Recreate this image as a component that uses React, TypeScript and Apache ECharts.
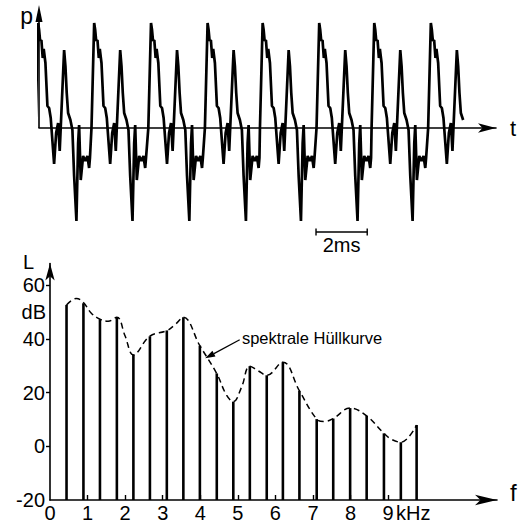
import React, { useEffect, useRef } from 'react';
import * as echarts from 'echarts';

// ---------- top: pressure waveform p(t) ----------
// start time (ms) of each period, read at the steep rise of each main peak
const periodStartMs = [-0.14, 2.05, 4.27, 6.48, 8.63, 10.84, 12.99, 15.2];
// one period of the trace: time after period start (ms) and relative pressure
const shapeT = [0, 0.105, 0.145, 0.184, 0.234, 0.285, 0.324, 0.391, 0.469, 0.535, 0.598, 0.73, 0.809, 0.887, 0.949, 1.121, 1.172, 1.223, 1.277, 1.367, 1.445, 1.512, 1.602, 1.668, 1.707, 1.77, 1.863, 1.953, 2.031, 2.098, 2.13];
const shapeP = [0, 105, 98, 87, 88, 70, 79, 65, 22, 20, 10, -36, -5, 5, -23, 78, 62, 35, 15, 8, -2, -48, -93, -15, 3, -52, -28, -33, -28, -40, -30];
const lastPeriodEndMs = 1.4;
const scaleBarMs = [10.82, 12.82];

// ---------- bottom: line spectrum L(f) ----------
const harmonicKHz = [0.44, 0.89, 1.33, 1.78, 2.22, 2.66, 3.11, 3.55, 3.99, 4.44, 4.88, 5.32, 5.77, 6.2, 6.64, 7.1, 7.54, 7.99, 8.43, 8.89, 9.34, 9.76];
const levelDb = [52.6, 53.2, 47.3, 48, 34.1, 40.9, 43.1, 48, 37.4, 27.1, 16.6, 29.8, 26.4, 31.3, 20.6, 10.1, 10.3, 14.2, 11.3, 4.8, 1.5, 7.9];
const envelopeKHz = [0.44, 0.7, 0.89, 1.1, 1.33, 1.55, 1.78, 2.0, 2.22, 2.66, 3.11, 3.35, 3.55, 3.99, 4.44, 4.7, 4.88, 5.1, 5.32, 5.55, 5.77, 6.2, 6.64, 7.1, 7.3, 7.54, 7.99, 8.43, 8.89, 9.1, 9.34, 9.76];
const envelopeDb = [52.6, 55, 53.5, 49.5, 47.3, 46.5, 48, 41, 34, 41, 43, 45.5, 48, 37.4, 27, 19, 16.6, 22, 29.8, 28, 26.4, 31.3, 20.6, 10.1, 9.2, 10.3, 14.2, 11.3, 4.8, 2.5, 1.5, 7.9];
const freqLabels = [0, 1, 2, 3, 4, 5, 6, 7, 8, 9];
const freqTicks = [1, 2, 3, 4, 5, 6, 7, 8, 9];
const levelLabels = [-20, 0, 20, 40, 60];
const levelTicks = [0, 20, 40, 60];

const FONT = 'Liberation Sans, Arial, sans-serif';
const INK = '#000';

function buildWave(): number[][] {
  const out: number[][] = [];
  periodStartMs.forEach((s, k) => {
    const last = k === periodStartMs.length - 1;
    for (let i = 0; i < shapeT.length; i++) {
      if (last && shapeT[i] > lastPeriodEndMs) break;
      out.push([s + shapeT[i], shapeP[i]]);
    }
  });
  return out;
}

export default function App() {
  const ref = useRef<HTMLDivElement>(null);
  useEffect(() => {
    const chart = echarts.init(ref.current!, null, { renderer: 'svg' });
    const option: any = {
      animation: false,
      backgroundColor: '#fff',
      grid: [
        { left: 39, right: 25, top: 5, height: 223 },
        { left: 50, right: 24, top: 263.5, bottom: 21.3 },
      ],
      xAxis: [
        {
          gridIndex: 0, type: 'value', min: 0, max: 17.85,
          axisLine: { show: true, onZero: true, symbol: ['none', 'arrow'], symbolSize: [7, 18], lineStyle: { color: INK, width: 1.6 } },
          axisTick: { show: false }, axisLabel: { show: false }, splitLine: { show: false },
        },
        {
          gridIndex: 1, type: 'value', min: 0, max: 11.9,
          axisLine: { show: true, onZero: false, symbol: ['none', 'arrow'], symbolSize: [8, 22], lineStyle: { color: INK, width: 1.6 } },
          axisTick: { show: true, inside: true, length: 5, customValues: freqTicks, lineStyle: { color: INK, width: 1.4 } },
          axisLabel: { show: true, customValues: freqLabels, margin: 3, color: INK, fontSize: 20, fontFamily: FONT },
          splitLine: { show: false },
        },
      ],
      yAxis: [
        { gridIndex: 0, type: 'value', min: -100, max: 123, show: false, splitLine: { show: false } },
        {
          gridIndex: 1, type: 'value', min: -20, max: 68,
          axisLine: { show: true, onZero: false, symbol: ['none', 'arrow'], symbolSize: [7, 17], lineStyle: { color: INK, width: 1.6 } },
          axisTick: { show: true, inside: false, length: 4, customValues: levelTicks, lineStyle: { color: INK, width: 1.4 } },
          axisLabel: { show: true, customValues: levelLabels, margin: 5, color: INK, fontSize: 20, fontFamily: FONT },
          splitLine: { show: false },
        },
      ],
      series: [
        {
          type: 'line', xAxisIndex: 0, yAxisIndex: 0, data: buildWave(), showSymbol: false, clip: true,
          lineStyle: { color: INK, width: 2.7 }, silent: true,
        },
        {
          type: 'custom', xAxisIndex: 1, yAxisIndex: 1,
          data: harmonicKHz.map((f, i) => [f, levelDb[i]]),
          renderItem: (params: any, api: any) => {
            const top = api.coord([api.value(0), api.value(1)]);
            const base = api.coord([api.value(0), -20]);
            return {
              type: 'line',
              shape: { x1: top[0], y1: top[1], x2: base[0], y2: base[1] },
              style: { stroke: INK, lineWidth: 2.6 },
            };
          },
          silent: true,
        },
        {
          type: 'line', xAxisIndex: 1, yAxisIndex: 1, smooth: 0.4, showSymbol: false,
          data: envelopeKHz.map((f, i) => [f, envelopeDb[i]]),
          lineStyle: { color: INK, width: 1.5, type: [6, 4] }, silent: true,
        },
      ],
    };
    chart.setOption(option);

    const p0 = (pt: number[]) => chart.convertToPixel({ gridIndex: 0 }, pt) as number[];
    const p1 = (pt: number[]) => chart.convertToPixel({ gridIndex: 1 }, pt) as number[];

    const pBase = p0([0, 0]);
    const pTop = p0([0, 114]);
    const bar0 = p0([scaleBarMs[0], -104]);
    const bar1 = p0([scaleBarMs[1], -104]);
    const arrowTip = p1([4.13, 32.7]);
    const arrowTail = p1([5.05, 39.6]);
    const textAnchor = p1([5.11, 40.4]);
    const dBPos = p1([0, 50]);
    const kHzPos = p1([9, -20]);
    const LPos = p1([0, 68]);
    const fPos = p1([11.9, -20]);
    const tPos = p0([17.85, 0]);

    const dx = arrowTip[0] - arrowTail[0];
    const dy = arrowTip[1] - arrowTail[1];
    const len = Math.hypot(dx, dy);
    const ux = dx / len, uy = dy / len;
    const headL = 10, headW = 3.2;
    const hb = [arrowTip[0] - ux * headL, arrowTip[1] - uy * headL];

    const txt = (x: number, y: number, text: string, size: number, align: string, va: string) => ({
      type: 'text', x, y, silent: true,
      style: { text, fill: INK, fontSize: size, fontFamily: FONT, align, verticalAlign: va },
    });

    chart.setOption({
      graphic: [
        // p axis (only above the zero line)
        { type: 'line', silent: true, shape: { x1: pBase[0], y1: pBase[1], x2: pTop[0], y2: pTop[1] }, style: { stroke: INK, lineWidth: 1.6 } },
        { type: 'polygon', silent: true, shape: { points: [[pTop[0], pTop[1] - 9], [pTop[0] - 3.5, pTop[1] + 8], [pTop[0] + 3.5, pTop[1] + 8]] }, style: { fill: INK } },
        txt(pTop[0] - 6, pTop[1] + 2, 'p', 23, 'right', 'middle'),
        txt(tPos[0] + 14, tPos[1], 't', 22, 'left', 'middle'),
        // 2 ms scale bar
        { type: 'line', silent: true, shape: { x1: bar0[0], y1: bar0[1], x2: bar1[0], y2: bar1[1] }, style: { stroke: INK, lineWidth: 1.4 } },
        { type: 'line', silent: true, shape: { x1: bar0[0], y1: bar0[1] - 3.5, x2: bar0[0], y2: bar0[1] + 3.5 }, style: { stroke: INK, lineWidth: 1.4 } },
        { type: 'line', silent: true, shape: { x1: bar1[0], y1: bar1[1] - 3.5, x2: bar1[0], y2: bar1[1] + 3.5 }, style: { stroke: INK, lineWidth: 1.4 } },
        txt((bar0[0] + bar1[0]) / 2, bar0[1] + 3, '2ms', 20, 'center', 'top'),
        // bottom axis names and units
        txt(LPos[0] - 27, LPos[1] - 2, 'L', 20, 'left', 'middle'),
        txt(fPos[0] + 13, fPos[1] - 8, 'f', 24, 'left', 'middle'),
        txt(dBPos[0] - 4, dBPos[1], 'dB', 20, 'right', 'middle'),
        txt(kHzPos[0] + 8, kHzPos[1] + 3, 'kHz', 20, 'left', 'top'),
        // annotation
        txt(textAnchor[0], textAnchor[1], 'spektrale Hüllkurve', 16.5, 'left', 'middle'),
        { type: 'line', silent: true, shape: { x1: arrowTail[0], y1: arrowTail[1], x2: hb[0], y2: hb[1] }, style: { stroke: INK, lineWidth: 1.2 } },
        { type: 'polygon', silent: true, shape: { points: [arrowTip, [hb[0] - uy * headW, hb[1] + ux * headW], [hb[0] + uy * headW, hb[1] - ux * headW]] }, style: { fill: INK } },
      ],
    });
    return () => chart.dispose();
  }, []);
  return <div ref={ref} style={{ position: 'fixed', left: 0, top: 0, width: 521, height: 523, background: '#fff' }} />;
}
